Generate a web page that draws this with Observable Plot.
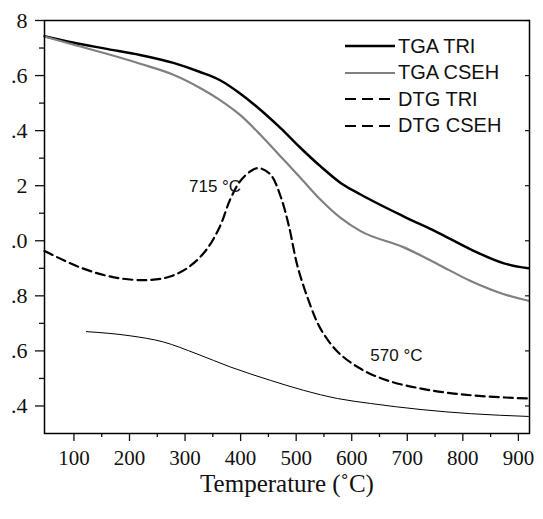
<!DOCTYPE html>
<html>
<head>
<meta charset="utf-8">
<script src="https://cdn.jsdelivr.net/npm/d3@7"></script>
<script src="https://cdn.jsdelivr.net/npm/@observablehq/plot@0.6"></script>
<style>
  body { margin: 0; background: #fff; }
  #wrap { position: relative; width: 543px; height: 519px; }
  #legend { position: absolute; left: 345px; top: 33px; font-family: "Liberation Sans", Arial, sans-serif; font-size: 20px; color: #111; }
  .row { display: flex; align-items: center; height: 26.5px; }
  .row svg { margin-right: 3px; }
</style>
</head>
<body>
<div id="wrap"><div id="legend"></div></div>
<script>
// ---- data ----
const tgaTriT   = [47, 98, 159, 219, 279, 327, 363, 399, 436, 472, 508, 544, 580, 616, 694, 755, 814, 874, 918];
const tgaTriV   = [1.743, 1.720, 1.697, 1.675, 1.646, 1.613, 1.583, 1.535, 1.475, 1.409, 1.337, 1.270, 1.210, 1.168, 1.088, 1.030, 0.969, 0.918, 0.900];

const tgaCsehT  = [47, 98, 159, 219, 279, 327, 363, 399, 436, 472, 508, 544, 580, 616, 694, 755, 814, 874, 918];
const tgaCsehV  = [1.742, 1.713, 1.679, 1.643, 1.603, 1.555, 1.511, 1.457, 1.384, 1.306, 1.228, 1.149, 1.083, 1.035, 0.976, 0.915, 0.854, 0.806, 0.782];

const dtgTriT   = [47, 110, 170, 231, 273, 309, 339, 363, 381, 399, 417.5, 432.5, 454, 472, 487, 502.5, 526, 544, 574.5, 616, 665, 725, 784, 846, 918];
const dtgTriV   = [0.963, 0.904, 0.868, 0.857, 0.870, 0.908, 0.969, 1.053, 1.149, 1.216, 1.252, 1.264, 1.240, 1.161, 1.053, 0.907, 0.763, 0.680, 0.597, 0.535, 0.492, 0.463, 0.445, 0.434, 0.427];

const dtgCsehT  = [122.4, 200.7, 260, 321.5, 381, 453.7, 513, 574.5, 634, 724.7, 814, 918];
const dtgCsehV  = [0.670, 0.655, 0.633, 0.589, 0.542, 0.493, 0.457, 0.427, 0.409, 0.387, 0.372, 0.362];

const xTicks = [100, 200, 300, 400, 500, 600, 700, 800, 900];
const xMinor = [150, 250, 350, 450, 550, 650, 750, 850];
const yTicks = [1.8, 1.6, 1.4, 1.2, 1.0, 0.8, 0.6, 0.4];
const yTickLabels = ["8", ".6", ".4", "2", ".0", ".8", ".6", ".4"];
const yMinor = [1.7, 1.5, 1.3, 1.1, 0.9, 0.7, 0.5];

const noteLabels = ["715 \u00B0C", "570 \u00B0C"];
const noteT = [354, 680.5];
const noteV = [1.196, 0.582];

const seriesNames = ["TGA TRI", "TGA CSEH", "DTG TRI", "DTG CSEH"];
const xTitle = "Temperature (\u02DAC)";

// ---- build ----
const toRows = (T, V) => T.map((t, i) => ({t, v: V[i]}));
const notes = noteLabels.map((s, i) => ({s, t: noteT[i], v: noteV[i]}));
const serif = "'Liberation Serif', 'Times New Roman', serif";

const chart = Plot.plot({
  width: 543, height: 519,
  marginLeft: 44, marginRight: 14, marginTop: 20, marginBottom: 86,
  style: {fontFamily: serif, fontSize: "20px", color: "#111", background: "white"},
  x: {domain: [47, 920]},
  y: {domain: [0.3, 1.8]},
  marks: [
    Plot.axisX({ticks: xTicks, tickSize: 8, tickPadding: 9, label: null, strokeWidth: 1.3,
      tickFormat: d => String(d)}),
    Plot.axisX({ticks: xMinor, tickSize: 4, text: null, label: null, strokeWidth: 1.3}),
    Plot.axisY({ticks: yTicks, tickSize: 9, tickPadding: 8, label: null, strokeWidth: 1.3,
      tickFormat: d => yTickLabels[yTicks.indexOf(d)]}),
    Plot.axisY({ticks: yMinor, tickSize: 5, text: null, label: null, strokeWidth: 1.3}),
    Plot.axisY({anchor: "right", ticks: yTicks, tickSize: -5, text: null, label: null, strokeWidth: 1.2}),
    Plot.line(toRows(tgaTriT, tgaTriV), {x: "t", y: "v", stroke: "#000", strokeWidth: 2.5, curve: "monotone-x"}),
    Plot.line(toRows(tgaCsehT, tgaCsehV), {x: "t", y: "v", stroke: "#808080", strokeWidth: 2.2, curve: "monotone-x"}),
    Plot.line(toRows(dtgTriT, dtgTriV), {x: "t", y: "v", stroke: "#000", strokeWidth: 2.2, strokeDasharray: "9,5", curve: "catmull-rom"}),
    Plot.line(toRows(dtgCsehT, dtgCsehV), {x: "t", y: "v", stroke: "#000", strokeWidth: 1, curve: "monotone-x"}),
    Plot.text(notes, {x: "t", y: "v", text: "s", fontFamily: "Liberation Sans", fontSize: 17, fill: "#111"}),
    Plot.text([xTitle], {frameAnchor: "bottom", dy: 58, text: d => d, fontSize: 25, fontFamily: serif, fill: "#111"}),
    Plot.frame({stroke: "#000", strokeWidth: 1.5})
  ]
});
document.getElementById("wrap").prepend(chart);

// tick label typography: style each tick text inline
const xLabelSet = new Set(xTicks.map(String));
const yLabelSet = new Set(yTickLabels);
chart.querySelectorAll("text").forEach(t => {
  const s = t.textContent;
  if (xLabelSet.has(s)) {
    t.style.fontFamily = serif; t.style.fontSize = "21px"; t.style.fontVariant = "normal";
  } else if (yLabelSet.has(s)) {
    t.style.fontFamily = serif; t.style.fontSize = "22px"; t.style.fontVariant = "normal";
  }
});

// legend
const styles = [
  {stroke: "#000", w: 2.5, dash: null},
  {stroke: "#808080", w: 2.2, dash: null},
  {stroke: "#000", w: 2.2, dash: "11,6"},
  {stroke: "#000", w: 2.2, dash: "11,6"}
];
const leg = document.getElementById("legend");
seriesNames.forEach((name, i) => {
  const s = styles[i];
  const row = document.createElement("div");
  row.className = "row";
  row.innerHTML = `<svg width="50" height="10"><line x1="0" x2="50" y1="5" y2="5" stroke="${s.stroke}" stroke-width="${s.w}" ${s.dash ? `stroke-dasharray="${s.dash}"` : ""}/></svg><span>${name}</span>`;
  leg.appendChild(row);
});
</script>
</body>
</html>
